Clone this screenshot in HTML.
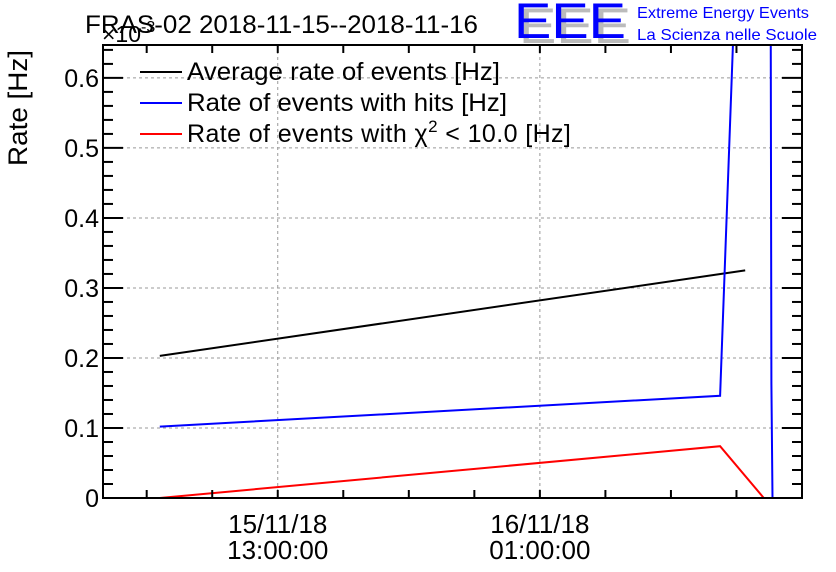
<!DOCTYPE html>
<html><head><meta charset="utf-8"><style>
body{margin:0;background:#fff;}
svg{display:block;font-family:"Liberation Sans",sans-serif;}
</style></head><body>
<svg id="chart" width="836" height="572">
<defs><clipPath id="clip"><rect x="103" y="45" width="699" height="453"/></clipPath></defs>
<rect x="0" y="0" width="836" height="572" fill="#fff"/>
<g id="grid"></g>
<g id="series" clip-path="url(#clip)"></g>
<rect x="103" y="45" width="699" height="453" fill="none" stroke="#000" stroke-width="2"/>
<g id="ticks"></g>
<text x="85" y="33" font-size="25" textLength="393" lengthAdjust="spacingAndGlyphs">FRAS-02 2018-11-15--2018-11-16</text>
<text x="102" y="42" font-size="23">×10<tspan font-size="16" dy="-10">-3</tspan></text>
<text transform="translate(27,108) rotate(-90)" text-anchor="middle" font-size="27" textLength="116" lengthAdjust="spacingAndGlyphs">Rate [Hz]</text>
<g>
<line x1="140" y1="72" x2="182" y2="72" stroke="#000" stroke-width="2"/>
<text x="187" y="80" font-size="25" textLength="313" lengthAdjust="spacingAndGlyphs">Average rate of events [Hz]</text>
<line x1="140" y1="103" x2="182" y2="103" stroke="#00f" stroke-width="2"/>
<text x="187" y="111" font-size="25" textLength="320" lengthAdjust="spacingAndGlyphs">Rate of events with hits [Hz]</text>
<line x1="140" y1="134" x2="182" y2="134" stroke="#f00" stroke-width="2"/>
<text x="187" y="142" font-size="25" letter-spacing="0.4">Rate of events with χ<tspan font-size="17" dy="-10">2</tspan><tspan dy="10"> &lt; 10.0 [Hz]</tspan></text>
</g>
<g>
<text x="519" y="43" font-size="50" fill="#bbb" textLength="112" lengthAdjust="spacingAndGlyphs">EEE</text>
<text x="514" y="38" font-size="50" fill="#00f" textLength="112" lengthAdjust="spacingAndGlyphs">EEE</text>
<text x="637" y="18" font-size="16" fill="#00f" textLength="172" lengthAdjust="spacingAndGlyphs">Extreme Energy Events</text>
<text x="637" y="40" font-size="16" fill="#00f" textLength="180" lengthAdjust="spacingAndGlyphs">La Scienza nelle Scuole</text>
</g>
</svg>
<script>
const yTicks = [0, 0.1, 0.2, 0.3, 0.4, 0.5, 0.6];
const yTickLabels = ["0", "0.1", "0.2", "0.3", "0.4", "0.5", "0.6"];
const xLabelHours = [13, 25];
const xLabelLine1 = ["15/11/18", "16/11/18"];
const xLabelLine2 = ["13:00:00", "01:00:00"];
const avgHours = [7.6, 34.4];
const avgValues = [0.203, 0.325];
const hitsHours = [7.6, 33.25, 34.3, 35.55, 35.6, 35.65];
const hitsValues = [0.102, 0.146, 1.04, 1.0, 0.163, 0];
const chiHours = [7.6, 33.25, 35.25, 36.65];
const chiValues = [0, 0.074, 0, 0];

const X0 = 103, X1 = 802, Y0 = 498, Y1 = 45;
const hMin = 5, hMax = 37, vMin = 0, vMax = 0.647;
const xs = h => X0 + (h - hMin) / (hMax - hMin) * (X1 - X0);
const ys = v => Y0 - (v - vMin) / (vMax - vMin) * (Y0 - Y1);
const NS = "http://www.w3.org/2000/svg";
const grid = document.getElementById('grid');
const ticks = document.getElementById('ticks');
const series = document.getElementById('series');
function mk(tag, attrs, parent) {
  const e = document.createElementNS(NS, tag);
  for (const k in attrs) e.setAttribute(k, attrs[k]);
  parent.appendChild(e);
  return e;
}
yTicks.forEach((v, i) => {
  const y = ys(v);
  if (v > 0) {
    const g = mk('line', {x1: X0, x2: X1, y1: y, y2: y, stroke: '#999', 'stroke-dasharray': '3,3', 'stroke-width': 1}, grid);
    
    
  }
  const t = mk('text', {x: X0 - 4, y: y + 9, 'text-anchor': 'end', 'font-size': 25}, ticks);
  t.textContent = yTickLabels[i];
  
  
});
for (let k = 0; k <= 32; k++) {
  const v = k * 0.02;
  if (v > vMax) break;
  const y = ys(v);
  const len = (k % 5 === 0) ? 20 : 10;
  const a = mk('line', {x1: X0, x2: X0 + len, y1: y, y2: y, stroke: '#000', 'stroke-width': 2}, ticks);
  
  
  const b = mk('line', {x1: X1, x2: X1 - len, y1: y, y2: y, stroke: '#000', 'stroke-width': 2}, ticks);
  
  
}
for (let h = 7; h < hMax; h += 3) {
  const x = xs(h);
  const a = mk('line', {x1: x, x2: x, y1: Y0, y2: Y0 - 8, stroke: '#000', 'stroke-width': 2}, ticks);
  
  
  const b = mk('line', {x1: x, x2: x, y1: Y1, y2: Y1 + 8, stroke: '#000', 'stroke-width': 2}, ticks);
  
  
}
xLabelHours.forEach((h, i) => {
  const x = xs(h);
  const g = mk('line', {x1: x, x2: x, y1: Y1, y2: Y0, stroke: '#999', 'stroke-dasharray': '3,3', 'stroke-width': 1}, grid);
  
  
  const t1 = mk('text', {x: x, y: 533, 'text-anchor': 'middle', 'font-size': 26}, ticks);
  t1.textContent = xLabelLine1[i];
  
  
  const t2 = mk('text', {x: x, y: 559, 'text-anchor': 'middle', 'font-size': 26}, ticks);
  t2.textContent = xLabelLine2[i];
  
  
});
function line(hs, vs, color, name) {
  const pts = hs.map((h, i) => xs(h).toFixed(1) + ',' + ys(vs[i]).toFixed(1)).join(' ');
  const p = mk('polyline', {points: pts, fill: 'none', stroke: color, 'stroke-width': 2}, series);
  
  
}
line(avgHours, avgValues, '#000', 'average-rate-line');
line(hitsHours, hitsValues, '#00f', 'hits-rate-line');
line(chiHours, chiValues, '#f00', 'chi2-rate-line');
</script>
</body></html>
